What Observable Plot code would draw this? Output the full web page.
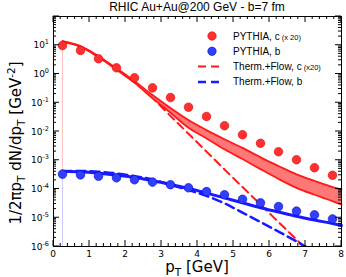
<!DOCTYPE html>
<html><head><meta charset="utf-8">
<script src="https://cdn.jsdelivr.net/npm/d3@7"></script>
<script src="https://cdn.jsdelivr.net/npm/@observablehq/plot@0.6"></script>
<style>
body{margin:0;background:#fff;}
svg{font-family:"DejaVu Sans",sans-serif;}
</style></head><body>
<div id="chart"></div>
<script>
// ---- data ----
const titleText = "RHIC Au+Au@200 GeV - b=7 fm";
const xDomain = [0, 8];
const yDomain = [1e-6, 1e2];
const xMajorTicks = [0, 1, 2, 3, 4, 5, 6, 7, 8];
const yMajorExps = [-6, -5, -4, -3, -2, -1, 0, 1, 2];

// PYTHIA points
const ptPoints = [0.25, 0.75, 1.25, 1.75, 2.25, 2.75, 3.25, 3.75, 4.25, 4.75, 5.25, 5.75, 6.25, 6.75, 7.25, 7.75];
const pythiaC = [9.8, 6.6, 3.4, 1.64, 0.74, 0.33, 0.152, 0.070, 0.0333, 0.0158, 0.0077, 0.0039, 0.00197, 0.00104, 0.00055, 0.0003];
const pythiaB = [3.3e-4, 3.1e-4, 2.79e-4, 2.45e-4, 2.09e-4, 1.74e-4, 1.41e-4, 1.10e-4, 8.1e-5, 6.3e-5, 4.4e-5, 3.3e-5, 2.45e-5, 1.70e-5, 1.26e-5, 9.1e-6];

// Solid curves (c band, b line)
const curvePt = [0.25, 0.75, 1.25, 1.75, 2.25, 2.75, 3.25, 3.75, 4.25, 4.75, 5.25, 5.75, 6.25, 6.75, 7.25, 7.75, 8.0];
const bandCHigh = [13.8, 9.3, 4.17, 1.58, 0.562, 0.186, 0.066, 0.0251, 0.0112, 0.00537, 0.00269, 0.00126, 0.00063, 0.000324, 0.000191, 0.000117, 0.0000955];
const bandCLow = [13.2, 8.9, 3.8, 1.41, 0.49, 0.145, 0.0447, 0.0135, 0.00575, 0.0024, 0.0011, 0.00049, 0.000224, 0.00011, 0.000063, 0.000038, 0.0000288];
const solidB = [4.17e-4, 3.98e-4, 3.55e-4, 3.02e-4, 2.51e-4, 1.95e-4, 1.45e-4, 1.05e-4, 7.2e-5, 4.9e-5, 3.3e-5, 2.24e-5, 1.58e-5, 1.12e-5, 8.3e-6, 6.3e-6, 5.4e-6];

// Therm.+Flow dashed curves
const thermPt = [0.25, 0.75, 1.25, 1.75, 2.25, 2.75, 3.25, 3.75, 4.25, 4.75, 5.25, 5.75, 6.25, 6.75, 7.0];
const thermC = [13.5, 9.1, 4.0, 1.48, 0.55, 0.145, 0.0347, 0.0083, 0.002, 0.00048, 0.000117, 2.9e-5, 7.1e-6, 1.74e-6, 8.5e-7];
const thermB = [4.17e-4, 4.27e-4, 3.98e-4, 3.47e-4, 2.82e-4, 2.14e-4, 1.41e-4, 9.1e-5, 5.75e-5, 3.16e-5, 1.51e-5, 7.1e-6, 3.3e-6, 1.5e-6, 1.0e-6];

const legendLabels = ["PYTHIA, c", "PYTHIA, b", "Therm.+Flow, c", "Therm.+Flow, b"];
const legendSmall = [" (x 20)", "", " (x20)", ""];

// ---- build tables ----
const pts = ptPoints.map((x, i) => ({x, c: pythiaC[i], b: pythiaB[i]}));
const curves = curvePt.map((x, i) => ({x, hi: bandCHigh[i], lo: bandCLow[i], b: solidB[i]}));
const therm = thermPt.map((x, i) => ({x, c: thermC[i], b: thermB[i]}));

const RED = "#ff1a1a", BLUE = "#1a1aff";

const plot = Plot.plot({
  width: 346, height: 277,
  marginLeft: 53, marginRight: 5, marginTop: 16, marginBottom: 31,
  style: {background: "white", overflow: "visible"},
  x: {domain: xDomain, axis: null},
  y: {type: "log", domain: yDomain, axis: null},
  marks: [
    Plot.ruleX([{x: curvePt[0], y1: solidB[0], y2: bandCHigh[0]}], {x: "x", y1: "y1", y2: "y2", stroke: "#ffb4b4", strokeWidth: 0.8}),
    Plot.ruleX([{x: curvePt[0], y1: yDomain[0], y2: solidB[0]}], {x: "x", y1: "y1", y2: "y2", stroke: "#bcbcff", strokeWidth: 0.8}),
    Plot.line(therm, {x: "x", y: "c", stroke: RED, strokeWidth: 2, strokeDasharray: "8,5", curve: "monotone-x", clip: true}),
    Plot.line(therm, {x: "x", y: "b", stroke: BLUE, strokeWidth: 2.5, strokeDasharray: "9,5", curve: "monotone-x", clip: true}),
    Plot.areaY(curves, {x: "x", y1: "lo", y2: "hi", fill: "#ff7878", curve: "monotone-x"}),
    Plot.line(curves, {x: "x", y: "hi", stroke: RED, strokeWidth: 1.8, curve: "monotone-x"}),
    Plot.line(curves, {x: "x", y: "lo", stroke: RED, strokeWidth: 1.8, curve: "monotone-x"}),
    Plot.line(curves, {x: "x", y: "b", stroke: BLUE, strokeWidth: 3, curve: "monotone-x"}),
    Plot.dot(pts, {x: "x", y: "c", r: 4.3, fill: "#ff3030", stroke: "#e00000", strokeWidth: 0.6}),
    Plot.dot(pts, {x: "x", y: "b", r: 4.3, fill: "#3040ff", stroke: "#0000d0", strokeWidth: 0.6}),
    Plot.frame({stroke: "black", strokeWidth: 1})
  ]
});
document.getElementById("chart").appendChild(plot);

// ---- axes drawn with the plot's own scales ----
const sx = plot.scale("x"), sy = plot.scale("y");
const X = v => sx.apply(v), Y = v => sy.apply(v);
const [x0, x1] = sx.range, [yb, yt] = sy.range;
const svg = d3.select(plot);
const g = svg.append("g").attr("stroke", "black").attr("stroke-width", 1).attr("fill", "none");
function tick(xA, yA, xB, yB) { g.append("line").attr("x1", xA).attr("y1", yA).attr("x2", xB).attr("y2", yB); }
// x ticks (major every 1, minor every 0.2), bottom and top, pointing inward
for (let k = 0; k <= 40; k++) {
  const v = k * 0.2, px = X(v), major = k % 5 === 0, L = major ? 6 : 3;
  tick(px, yb, px, yb - L);
  tick(px, yt, px, yt + L);
}
// y ticks (log major/minor), left and right
for (const e of yMajorExps) {
  const py = Y(Math.pow(10, e));
  tick(x0, py, x0 + 6, py); tick(x1, py, x1 - 6, py);
  if (e < yMajorExps[yMajorExps.length - 1]) {
    for (let m = 2; m <= 9; m++) {
      const pm = Y(m * Math.pow(10, e));
      tick(x0, pm, x0 + 3, pm); tick(x1, pm, x1 - 3, pm);
    }
  }
}
// tick labels
const tl = svg.append("g").attr("fill", "black").attr("font-size", 9);
for (const v of xMajorTicks) {
  tl.append("text").attr("x", X(v)).attr("y", yb + 10.5).attr("text-anchor", "middle").text(v);
}
for (const e of yMajorExps) {
  if (e === 2) continue;
  const t = tl.append("text").attr("x", x0 - 4).attr("y", Y(Math.pow(10, e)) + 3.5).attr("text-anchor", "end");
  t.append("tspan").text("10");
  t.append("tspan").attr("font-size", 6.5).attr("dy", -4).text(String(e));
}
// title
svg.append("text").attr("x", (x0 + x1) / 2).attr("y", 11).attr("text-anchor", "middle")
  .attr("font-family", "'Liberation Sans', Arial, sans-serif")
  .attr("font-size", 12).attr("fill", "black").text(titleText);
// x label
const xl = svg.append("text").attr("x", (x0 + x1) / 2).attr("y", 272).attr("text-anchor", "middle")
  .attr("font-size", 15).attr("fill", "black");
xl.append("tspan").text("p");
xl.append("tspan").attr("font-size", 10.5).attr("dy", 4).text("T");
xl.append("tspan").attr("dy", -4).text(" [GeV]");
// y label
const ylab = svg.append("text").attr("transform", `translate(21,${(yb + yt) / 2 + 12}) rotate(-90)`)
  .attr("text-anchor", "middle").attr("font-size", 15).attr("fill", "black");
ylab.append("tspan").text("1/2πp");
ylab.append("tspan").attr("font-size", 10.5).attr("dy", 4).text("T");
ylab.append("tspan").attr("dy", -4).text(" dN/dp");
ylab.append("tspan").attr("font-size", 10.5).attr("dy", 4).text("T");
ylab.append("tspan").attr("dy", -4).text(" [GeV");
ylab.append("tspan").attr("font-size", 10.5).attr("dy", -6).text("-2");
ylab.append("tspan").attr("dy", 6).text("]");
// legend
const lg = svg.append("g").attr("font-size", 10).attr("fill", "black").attr("text-anchor", "start")
  .attr("font-family", "'Liberation Sans', Arial, sans-serif");
const lx = 212, ly0 = 36, ldy = 15.3;
lg.append("circle").attr("cx", lx).attr("cy", ly0).attr("r", 4.2).attr("fill", "#ff3030").attr("stroke", "#e00000").attr("stroke-width", 0.6);
lg.append("circle").attr("cx", lx).attr("cy", ly0 + ldy).attr("r", 4.2).attr("fill", "#3040ff").attr("stroke", "#0000d0").attr("stroke-width", 0.6);
lg.append("line").attr("x1", 198).attr("x2", 222).attr("y1", ly0 + 2 * ldy).attr("y2", ly0 + 2 * ldy)
  .attr("stroke", RED).attr("stroke-width", 2).attr("stroke-dasharray", "8,5");
lg.append("line").attr("x1", 198).attr("x2", 222).attr("y1", ly0 + 3 * ldy).attr("y2", ly0 + 3 * ldy)
  .attr("stroke", BLUE).attr("stroke-width", 2.5).attr("stroke-dasharray", "8,5");
legendLabels.forEach((s, i) => {
  const t = lg.append("text").attr("x", 233).attr("y", ly0 + i * ldy + 3.5).attr("text-anchor", "start");
  t.append("tspan").text(s);
  if (legendSmall[i]) t.append("tspan").attr("font-size", 7.5).text(legendSmall[i]);
});
</script>
</body></html>
